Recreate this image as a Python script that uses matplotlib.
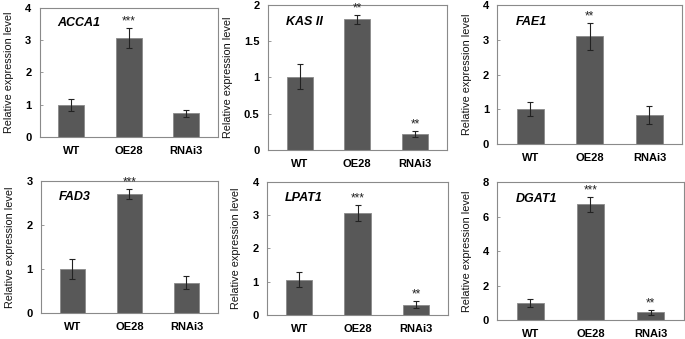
import matplotlib
matplotlib.use("Agg")
import matplotlib.pyplot as plt

plt.rcParams["font.family"] = ["Liberation Sans", "DejaVu Sans"]

lines = ["WT", "OE28", "RNAi3"]

genes = ["ACCA1", "KAS II", "FAE1", "FAD3", "LPAT1", "DGAT1"]
means = [
    [1.00, 3.05, 0.73],
    [1.01, 1.80, 0.22],
    [1.01, 3.10, 0.84],
    [1.00, 2.71, 0.69],
    [1.06, 3.07, 0.31],
    [1.00, 6.70, 0.44],
]
errors = [
    [0.19, 0.31, 0.11],
    [0.17, 0.06, 0.04],
    [0.20, 0.39, 0.25],
    [0.22, 0.11, 0.15],
    [0.22, 0.24, 0.10],
    [0.22, 0.45, 0.13],
]
stars = [
    ["", "***", ""],
    ["", "**", "**"],
    ["", "**", ""],
    ["", "***", ""],
    ["", "***", "**"],
    ["", "***", "**"],
]
ymax = [4, 2, 4, 3, 4, 8]
yticks = [
    [0, 1, 2, 3, 4],
    [0, 0.5, 1, 1.5, 2],
    [0, 1, 2, 3, 4],
    [0, 1, 2, 3],
    [0, 1, 2, 3, 4],
    [0, 2, 4, 6, 8],
]
ytick_labels = [
    ["0", "1", "2", "3", "4"],
    ["0", "0.5", "1", "1.5", "2"],
    ["0", "1", "2", "3", "4"],
    ["0", "1", "2", "3"],
    ["0", "1", "2", "3", "4"],
    ["0", "2", "4", "6", "8"],
]

# panel boxes in figure fractions (the panels were pasted, not aligned)
boxes = [
    [0.058, 0.596, 0.260, 0.381],
    [0.391, 0.558, 0.261, 0.428],
    [0.726, 0.575, 0.270, 0.410],
    [0.060, 0.077, 0.258, 0.389],
    [0.390, 0.071, 0.264, 0.392],
    [0.726, 0.056, 0.272, 0.407],
]

fig = plt.figure(figsize=(6.85, 3.39), dpi=100)

for i, gene in enumerate(genes):
    ax = fig.add_axes(boxes[i])
    x = range(len(lines))
    ax.bar(x, means[i], width=0.45, color="#585858", edgecolor="#8a8a8a",
           linewidth=0.6, zorder=2)
    ax.errorbar(x, means[i], yerr=errors[i], fmt="none", ecolor="#222222",
                elinewidth=0.8, capsize=2, capthick=0.8, zorder=3)
    for xi, m, e, s in zip(x, means[i], errors[i], stars[i]):
        if s:
            ax.text(xi, m + e + ymax[i] * 0.005, s, ha="center", va="bottom",
                    fontsize=8.5, color="#222222")
    ax.set_xlim(-0.55, 2.55)
    ax.set_ylim(0, ymax[i])
    ax.set_yticks(yticks[i])
    ax.set_yticklabels(ytick_labels[i], fontsize=8, fontweight="bold")
    ax.set_xticks(list(x))
    ax.set_xticklabels(lines, fontsize=8, fontweight="bold")
    ax.tick_params(axis="x", length=0, pad=6.5)
    ax.tick_params(axis="y", direction="in", length=2.5, width=0.6,
                   color="#888888", pad=6)
    for sp in ax.spines.values():
        sp.set_color("#8a8a8a")
        sp.set_linewidth(0.8)
    ax.set_ylabel("Relative expression level", fontsize=7.8, labelpad=8,
                  color="#111111")
    ax.text(0.1, 0.88, gene, transform=ax.transAxes, ha="left", va="center",
            fontsize=9, fontweight="bold", fontstyle="italic")

fig.savefig("out.png", dpi=100)
